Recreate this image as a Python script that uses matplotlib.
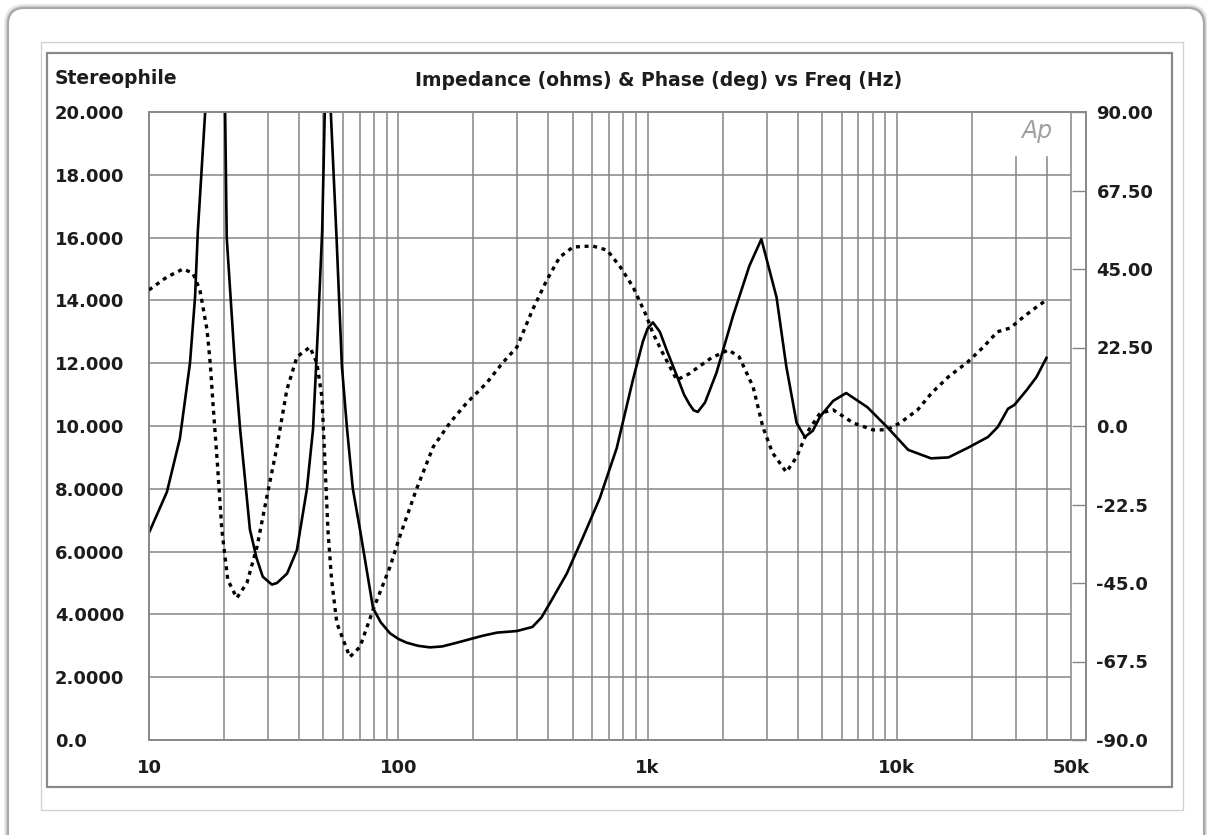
import matplotlib
matplotlib.use("Agg")
import matplotlib.pyplot as plt
from matplotlib.patches import Rectangle, FancyBboxPatch
from matplotlib.transforms import IdentityTransform
from matplotlib.ticker import NullLocator

W, H = 1207, 835

# impedance magnitude (ohms) vs frequency (Hz)
imp_freq = [10, 11.8, 13.3, 14.6, 15.3, 15.7, 16.8, 18.4, 20.2, 20.5, 22.1, 23.2,
            25.4, 27.0, 28.6, 31.1, 32.6, 35.8, 39.2, 43.0, 45.5, 47.6, 49.5, 50.7,
            51.9, 53.6, 56.6, 59.4, 62.3, 65.7, 70.2, 79.2, 85, 92.6, 100, 108, 120,
            134, 150, 172, 218, 249, 299, 345, 375, 405, 474, 550, 643, 752, 875,
            958, 1000, 1050, 1120, 1195, 1310, 1400, 1470, 1530, 1590, 1700, 1890,
            2200, 2560, 2860, 3290, 3600, 3960, 4270, 4600, 4920, 5550, 6260, 7610,
            9130, 11100, 13700, 16100, 19200, 23200, 25400, 27900, 29600, 33200,
            36300, 39800]
imp_ohm = [6.6, 7.9, 9.6, 12.0, 14.1, 16.2, 20.0, 27.0, 20.0, 16.0, 12.0, 9.9,
           6.7, 5.8, 5.2, 4.95, 5.0, 5.3, 6.05, 8.0, 9.9, 13.1, 16.2, 20.0,
           27.0, 20.0, 15.9, 11.9, 9.9, 8.0, 6.7, 4.2, 3.75, 3.4, 3.22, 3.1, 3.0,
           2.95, 2.98, 3.1, 3.32, 3.42, 3.47, 3.6, 3.9, 4.35, 5.3, 6.45, 7.7, 9.3, 11.5,
           12.7, 13.1, 13.3, 13.0, 12.4, 11.6, 11.0, 10.7, 10.5, 10.45, 10.75, 11.7,
           13.5, 15.1, 15.95, 14.1, 11.9, 10.1, 9.65, 9.85, 10.3, 10.8, 11.05, 10.6,
           9.97, 9.24, 8.97, 9.0, 9.3, 9.65, 9.97, 10.55, 10.67, 11.15,
           11.56, 12.17]

# phase (degrees) vs frequency (Hz)
ph_freq = [10, 11.8, 13.7, 15.0, 16.0, 17.1, 17.6, 18.1, 18.8, 19.6, 20.7, 22.5,
           24.7, 27.1, 29.7, 32.6, 35.7, 39.2, 44.2, 47.1, 49.4, 50.8, 52.2, 54.0,
           56.7, 63.9, 70.2, 79.2, 92.6, 101, 118, 138, 161, 188, 226, 262, 299,
           345, 394, 444, 502, 602, 688, 777, 875, 994, 1050, 1150, 1310, 1470,
           1620, 1800, 2110, 2330, 2650, 2900, 3170, 3600, 3960, 4350, 4920,
           5560, 6670, 8000, 9130, 10300, 12100, 13800, 16100, 19200, 22200,
           25300, 28500, 32100, 36300, 39800]
ph_deg = [39.0, 42.7, 45.0, 43.8, 39.0, 27.5, 18.0, 5.4, -10.6, -29.8, -44.1, -49.3,
          -45.0, -34.7, -20.3, -6.0, 10.3, 19.8, 22.6, 18.1, 8.3, -10.6, -29.8, -44.1,
          -56.5, -66.2, -63.3, -52.7, -40.4, -32.0, -18.3, -6.0, 0.9, 6.6, 12.3, 18.1, 22.6,
          33.2, 41.8, 48.4, 51.3, 51.6, 50.4, 45.6, 39.8, 31.2, 26.6, 20.9, 13.2, 15.0,
          17.2, 19.5, 21.8, 19.8, 11.2, -0.3, -7.7, -13.2, -8.9, -2.0, 3.7,
          4.6, 0.9, -1.1, -1.1, 0.9, 4.6, 9.5, 14.1, 18.3, 22.6,
          27.0, 28.1, 31.2, 34.1, 36.1]

imp_ticks = [0, 2, 4, 6, 8, 10, 12, 14, 16, 18, 20]
imp_labels = ["0.0", "2.0000", "4.0000", "6.0000", "8.0000", "10.000",
              "12.000", "14.000", "16.000", "18.000", "20.000"]
ph_ticks = [-90, -67.5, -45, -22.5, 0, 22.5, 45, 67.5, 90]
ph_labels = ["-90.0", "-67.5", "-45.0", "-22.5", "0.0", "22.50", "45.00", "67.50", "90.00"]
x_ticks = [10, 100, 1000, 10000, 50000]
x_labels = ["10", "100", "1k", "10k", "50k"]
grid_freqs = [f * d for d in (10, 100, 1000) for f in range(1, 10)] + [10000, 20000, 30000, 40000, 50000]

plt.rcParams['font.family'] = ['DejaVu Sans']
TXT = "#1c1c1c"
GRID = "#858585"

fig = plt.figure(figsize=(W / 100, H / 100), dpi=100)

# page frames (pixel coords, origin bottom-left)
def box(x0, y0, x1, y1, **kw):
    return Rectangle((x0, H - y1), x1 - x0, y1 - y0, transform=IdentityTransform(),
                     fill=False, **kw)

for i, a in enumerate([0.08, 0.12, 0.18]):
    fig.add_artist(FancyBboxPatch((8 - 2 + i, H - 870), 1196 + 4 - 2 * i, 862 + 2 - i,
                                  boxstyle="round,pad=0,rounding_size=18",
                                  transform=IdentityTransform(), fill=False,
                                  ec="black", lw=3 - i, alpha=a))
fig.add_artist(FancyBboxPatch((8, H - 870), 1196, 862, boxstyle="round,pad=0,rounding_size=16",
                              transform=IdentityTransform(), fill=False, ec="#a8a8a8", lw=1.5))
fig.add_artist(box(41, 42, 1183, 810, ec="#d2d2d2", lw=1.0))
fig.add_artist(box(47, 53, 1172, 787, ec="#8a8a8a", lw=1.6))

left, right, top, bottom = 149, 1086, 112, 740
ax = fig.add_axes([left / W, 1 - bottom / H, (right - left) / W, (bottom - top) / H])
ax.set_xscale("log")
xmax = 10 ** (1 + (right - left) / 249.3)
ax.set_xlim(10, xmax)
ax.set_ylim(0, 20)

# grid
for f in grid_freqs:
    ymax = 0.928 if f in (30000, 40000) else 1.0
    ax.axvline(f, 0, ymax, color=GRID, lw=1.1, zorder=1)
ax.hlines(imp_ticks, 10, 50000, color=GRID, lw=1.1, zorder=1)

ax.plot(imp_freq, imp_ohm, color="black", lw=1.9, zorder=3, solid_joinstyle="round")

ax.set_yticks(imp_ticks, imp_labels)
ax.xaxis.set_minor_locator(NullLocator())
ax.set_xticks(x_ticks, x_labels)
ax.tick_params(axis="y", length=0, pad=67.7, labelsize=13, labelcolor=TXT)
ax.tick_params(axis="x", length=0, pad=14, labelsize=13, labelcolor=TXT)
for lbl in ax.get_yticklabels() + ax.get_xticklabels():
    lbl.set_fontweight("bold")
for lbl in ax.get_yticklabels():
    lbl.set_horizontalalignment("left")

ax2 = ax.twinx()
ax2.set_ylim(-90, 90)
ax2.plot(ph_freq, ph_deg, color="black", lw=2.4, linestyle=(0, (1.2, 1.4)), zorder=3)
ax2.set_yticks(ph_ticks, ph_labels)
ax2.tick_params(axis="y", direction="in", length=10, width=1.0, color=GRID,
                pad=7.5, labelsize=13, labelcolor=TXT)
for lbl in ax2.get_yticklabels():
    lbl.set_fontweight("bold")

for a in (ax, ax2):
    for s in a.spines.values():
        s.set_color("#8a8a8a")
        s.set_linewidth(1.4)

# header texts
fig.text(55 / W, 1 - 78 / H, "Stereophile", ha="left", va="center",
         fontsize=13.5, fontweight="bold", color=TXT)
fig.text(659 / W, 1 - 80 / H, "Impedance (ohms) & Phase (deg) vs Freq (Hz)",
         ha="center", va="center", fontsize=13.5, fontweight="bold", color=TXT)
fig.text(1037 / W, 1 - 131 / H, "Ap", ha="center", va="center", fontsize=17,
         fontstyle="italic", fontweight="light", color="#a0a0a0")

fig.savefig("out.png", dpi=100)
